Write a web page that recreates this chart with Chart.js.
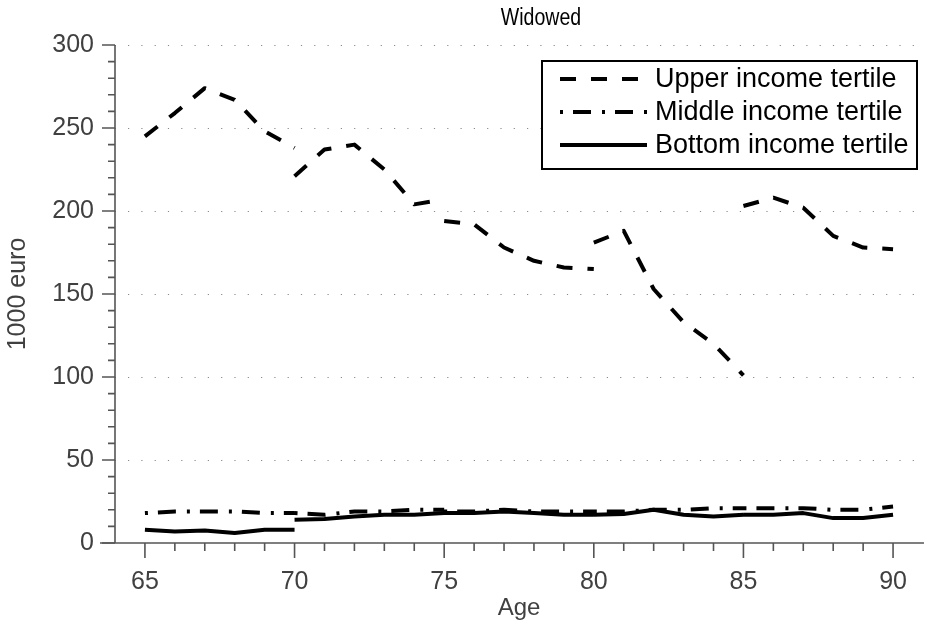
<!DOCTYPE html>
<html><head><meta charset="utf-8">
<script src="https://cdn.jsdelivr.net/npm/chart.js@4.4.1/dist/chart.umd.min.js"></script>
<style>html,body{margin:0;padding:0;background:#fff;}#wrap{width:931px;height:632px;}</style>
</head><body><div id="wrap"><canvas id="c" width="931" height="632"></canvas></div>
<script>
// Age groups: each 5-year block is drawn as its own segment
const segmentAges = [
  [65, 66, 67, 68, 69, 70],
  [70, 71, 72, 73, 74, 75],
  [75, 76, 77, 78, 79, 80],
  [80, 81, 82, 83, 84, 85],
  [85, 86, 87, 88, 89, 90]
];
// 1000 euro
const upperTertile = [
  [245, 259, 274, 267, 248, 238],
  [221, 237, 240, 225, 204, 207],
  [194, 192, 178, 170, 166, 165],
  [181, 188, 153, 133, 120, 101],
  [203, 208, 202, 185, 178, 177]
];
const middleTertile = [
  [18, 19, 19, 19, 18, 18],
  [18, 17, 19, 19, 20, 20],
  [19, 19, 20, 19, 19, 19],
  [19, 19, 20, 20, 21, 21],
  [21, 21, 21, 20, 20, 22]
];
const bottomTertile = [
  [8, 7, 7.5, 6, 8, 8],
  [14, 14.5, 16, 17, 17, 18],
  [18, 18, 19, 18, 17, 17],
  [17, 17.5, 20, 17, 16, 17],
  [17, 17, 18, 15, 15, 17]
];
const seriesNames = ['Upper income tertile', 'Middle income tertile', 'Bottom income tertile'];
const yTicks = [0, 50, 100, 150, 200, 250, 300];
const xLabelAges = [65, 70, 75, 80, 85, 90];

function toPoints(segs) {
  const pts = [];
  segs.forEach((seg, i) => {
    seg.forEach((v, j) => pts.push({x: segmentAges[i][j], y: v}));
    if (i < segs.length - 1) pts.push({x: segmentAges[i][seg.length - 1], y: null});
  });
  return pts;
}

const FONT = '"Liberation Sans", Arial, sans-serif';
const AXIS = '#555555';
const TXT = '#404040';

const axesPlugin = {
  id: 'axesPlugin',
  beforeDatasetsDraw(chart) {
    const {ctx, scales: {x, y}} = chart;
    ctx.save();
    ctx.strokeStyle = '#8a8a8a';
    ctx.lineWidth = 1.2;
    ctx.setLineDash([1.2, 12.1]);
    yTicks.forEach(v => {
      if (v === 0) return;
      const py = Math.round(y.getPixelForValue(v)) + 0.5;
      ctx.lineDashOffset = -13;
      ctx.beginPath();
      ctx.moveTo(x.left, py);
      ctx.lineTo(x.right, py);
      ctx.stroke();
    });
    ctx.restore();
  },
  afterDatasetsDraw(chart) {
    const {ctx, scales: {x, y}} = chart;
    ctx.save();
    ctx.strokeStyle = AXIS;
    ctx.lineWidth = 1.6;
    ctx.setLineDash([]);
    const y0 = y.getPixelForValue(0);
    const xl = x.left;
    ctx.beginPath();
    ctx.moveTo(xl, y.getPixelForValue(300));
    ctx.lineTo(xl, y0);
    ctx.moveTo(xl - 15, y0);
    ctx.lineTo(x.right + 1, y0);
    ctx.stroke();
    ctx.beginPath();
    for (let v = 0; v <= 300; v += 10) {
      const py = y.getPixelForValue(v);
      const len = (v % 50 === 0) ? 13 : 7;
      ctx.moveTo(xl, py);
      ctx.lineTo(xl - len, py);
    }
    for (let a = 65; a <= 90; a++) {
      const px = x.getPixelForValue(a);
      const len = (a % 5 === 0) ? 15 : 8;
      ctx.moveTo(px, y0);
      ctx.lineTo(px, y0 + len);
    }
    ctx.stroke();
    ctx.restore();
  },
  afterDraw(chart) {
    const {ctx} = chart;
    ctx.save();
    ctx.fillStyle = '#000';
    ctx.font = '23px ' + FONT;
    ctx.textAlign = 'center';
    ctx.textBaseline = 'middle';
    ctx.save();
    ctx.translate(541, 19);
    ctx.scale(0.85, 1);
    ctx.fillText('Widowed', 0, 0);
    ctx.restore();
    const bx = 542, by = 61, bw = 375, bh = 108;
    ctx.fillStyle = '#fff';
    ctx.fillRect(bx, by, bw, bh);
    ctx.strokeStyle = '#000';
    ctx.lineWidth = 2;
    ctx.strokeRect(bx, by, bw, bh);
    const rows = [79, 112, 145];
    chart.data.datasets.forEach((ds, i) => {
      ctx.strokeStyle = ds.borderColor;
      ctx.lineWidth = ds.borderWidth;
      ctx.setLineDash(ds.borderDash || []);
      ctx.lineDashOffset = 0;
      ctx.lineCap = 'butt';
      ctx.beginPath();
      ctx.moveTo(560, rows[i]);
      ctx.lineTo(647, rows[i]);
      ctx.stroke();
      ctx.setLineDash([]);
      ctx.fillStyle = '#000';
      ctx.font = '27px ' + FONT;
      ctx.textAlign = 'left';
      ctx.textBaseline = 'middle';
      ctx.fillText(ds.label, 655, rows[i] + 1);
    });
    ctx.restore();
  }
};

const common = {borderColor: '#000', borderWidth: 4, pointRadius: 0, tension: 0, spanGaps: false, fill: false, borderJoinStyle: 'round'};

new Chart(document.getElementById('c'), {
  type: 'line',
  data: {
    datasets: [
      Object.assign({label: seriesNames[0], data: toPoints(upperTertile), borderDash: [16, 15]}, common),
      Object.assign({label: seriesNames[1], data: toPoints(middleTertile), borderDash: [3, 10, 18, 11]}, common),
      Object.assign({label: seriesNames[2], data: toPoints(bottomTertile), borderDash: []}, common)
    ]
  },
  options: {
    responsive: false,
    devicePixelRatio: 1,
    animation: false,
    layout: {padding: {top: 45, right: 1, left: 0, bottom: 0}},
    plugins: {legend: {display: false}, title: {display: false}, tooltip: {enabled: false}},
    scales: {
      x: {
        type: 'linear', min: 64, max: 91,
        afterFit(s) { s.height = 89; },
        grid: {display: false, drawTicks: false},
        border: {display: false},
        afterBuildTicks(s) { s.ticks = xLabelAges.map(v => ({value: v})); },
        ticks: {autoSkip: false, maxRotation: 0, padding: 24, color: TXT, font: {family: FONT, size: 25}},
        title: {display: true, text: 'Age', color: TXT, font: {family: FONT, size: 24}, padding: {bottom: 9, top: 0}}
      },
      y: {
        min: 0, max: 300,
        afterFit(s) { s.width = 115; },
        grid: {display: false, drawTicks: false},
        border: {display: false},
        afterBuildTicks(s) { s.ticks = yTicks.map(v => ({value: v})); },
        ticks: {padding: 21, color: TXT, font: {family: FONT, size: 25}},
        title: {display: true, text: '1000 euro', color: TXT, font: {family: FONT, size: 25}, padding: {top: 3, bottom: 0}}
      }
    }
  },
  plugins: [axesPlugin]
});
</script></body></html>
